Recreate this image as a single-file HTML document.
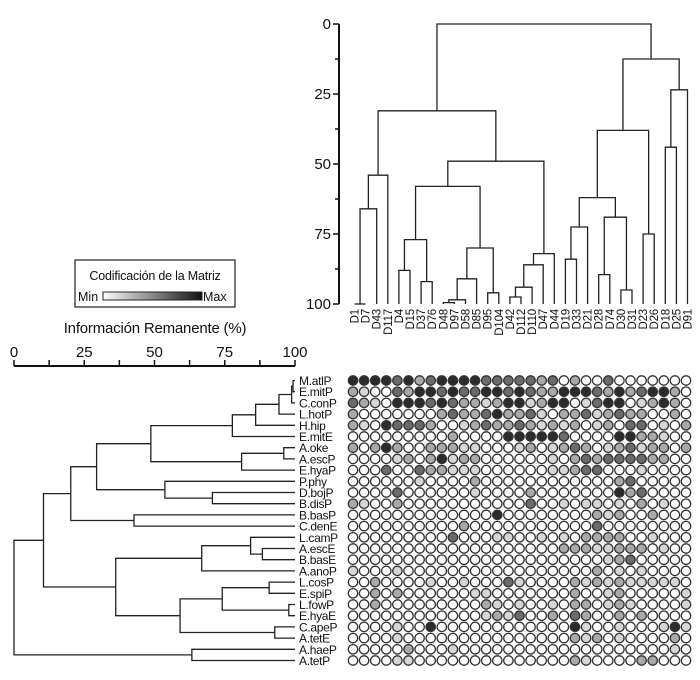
<!DOCTYPE html>
<html><head><meta charset="utf-8"><style>
html,body{margin:0;padding:0;background:#fff;}
svg text{font-family:"Liberation Sans",sans-serif;fill:#111;}
</style></head><body>
<svg id="fig" width="700" height="675" viewBox="0 0 700 675" xmlns="http://www.w3.org/2000/svg">
<g id="legend">
<defs><linearGradient id="grad" x1="0" x2="1" y1="0" y2="0"><stop offset="0" stop-color="#fff"/><stop offset="1" stop-color="#111"/></linearGradient></defs>
<rect x="75" y="260" width="160" height="47" fill="#fff" stroke="#333" stroke-width="1.3"/>
<text x="155" y="280" font-size="12.5" text-anchor="middle" letter-spacing="-0.2">Codificación de la Matriz</text>
<text x="78" y="301" font-size="12.5">Min</text>
<rect x="103" y="292" width="99" height="8" fill="url(#grad)" stroke="#222" stroke-width="1"/>
<text x="203" y="301" font-size="12.5">Max</text>
</g>
<text x="155" y="333" font-size="15" text-anchor="middle" letter-spacing="-0.2">Información Remanente (%)</text>
<g id="top"></g><g id="left"></g><g id="heat"></g>
</svg>
<script>
const colNames=["D1","D7","D43","D117","D4","D15","D37","D76","D48","D97","D58","D85","D95","D104","D42","D112","D110","D47","D44","D19","D33","D21","D28","D74","D30","D31","D23","D26","D18","D25","D91"];
const topMerges=[[0,1,100],["m0",2,66],["m1",3,54],[4,5,88],[6,7,92],["m3","m4",77],[8,9,99.5],["m6",10,98.5],["m7",11,91],[12,13,96],["m8","m9",80],["m5","m10",58],[14,15,97.5],["m12",16,94],["m13",17,86],["m14",18,82],["m11","m15",49],["m2","m16",31],[19,20,84],["m18",21,72.5],[22,23,89.5],[24,25,95],["m20","m21",69],["m19","m22",62],[26,27,75],["m23","m24",38],[28,29,44],["m26",30,23.5],["m25","m27",12.5],["m17","m28",0]];
const topTicks=[0,25,50,75,100];
const rowNames=["M.atlP","E.mitP","C.conP","L.hotP","H.hip","E.mitE","A.oke","A.escP","E.hyaP","P.phy","D.bojP","B.disP","B.basP","C.denE","L.camP","A.escE","B.basE","A.anoP","L.cosP","E.spiP","L.fowP","E.hyaE","C.apeP","A.tetE","A.haeP","A.tetP"];
const leftMerges=[[0,1,99.3],["m0",2,98.8],["m1",3,94.3],["m2",4,86],["m3",5,77.7],[6,7,96],["m5",8,81],["m4","m6",48.7],[10,11,70.6],[9,"m8",53.7],["m7","m9",29.4],[12,13,42.7],["m10","m11",20.2],[15,16,88.4],[14,"m13",84.2],["m14",17,66.8],[18,19,90.8],[20,21,97.8],["m16","m17",74.1],[22,23,92.8],["m18","m19",59.1],["m15","m20",36.2],["m12","m21",10.5],[24,25,63.3],["m22","m23",0]];
const leftTicks=[0,12.5,25,37.5,50,62.5,75,87.5,100];
const leftTickLabels=["0","25","50","75","100"];
const heatRows=[
"4444342344443333323020030000000",
"2100324434334434322444324234420",
"3210444343221244124401344012420",
"2000000023223422310223123220020",
"2104333200123223212120120330102",
"0000000002000044444300004422100",
"2024200222110001201232012312202",
"0000120241220000001023233332200",
"0003003221110000001123300010000",
"0000001000020000000000002300000",
"0000300000010000200000004230000",
"2100200000000000300101101020100",
"0000000000000400000000212002000",
"0000000000200000000000300000000",
"0000000003000110010102222001000",
"0000000000000000000222112220100",
"0000000000000000000000012300000",
"1000100000000000000000201010000",
"0020000100100031000021212111110",
"0020200000011000000020012000001",
"0020000000002101001022012100001",
"0000000000001213002032002020000",
"0000100400000000000041001000141",
"0000100000000000000021201000020",
"0000020001000000000000000000010",
"0000110000000000000021000022000"];
const shades=["#ffffff","#d6d6d6","#a9a9a9","#6b6b6b","#2b2b2b"];
const NS="http://www.w3.org/2000/svg";
function mk(tag,attrs,parent){const e=document.createElementNS(NS,tag);for(const k in attrs)e.setAttribute(k,attrs[k]);parent.appendChild(e);return e;}
const colX=i=>354.5+i*11.1;
const topY=v=>24+v*2.8;
const rowY=i=>380.5+i*11.2;
const leftX=v=>14+v*2.81;
const topG=document.getElementById('top'),leftG=document.getElementById('left'),heatG=document.getElementById('heat');
let ax=mk('line',{x1:339,x2:339,y1:topY(0),y2:topY(100),stroke:'#111','stroke-width':2},topG);


for(let v=0;v<=100;v+=12.5){const major=topTicks.includes(v);
 const t=mk('line',{x1:major?333:335,x2:339,y1:topY(v),y2:topY(v),stroke:'#111','stroke-width':1.5},topG);
 
 }
topTicks.forEach(v=>{const t=mk('text',{x:331,y:topY(v)+5,'font-size':15,'text-anchor':'end'},topG);t.textContent=v;
 
 });
function drawTree(merges,n,posOf,valOf,g,vertical,name){
 const pos=[],val=[];for(let i=0;i<n;i++){pos.push(posOf(i));val.push(valOf(100));}
 const mp=[],mv=[];
 const get=c=>typeof c==='number'?[pos[c],val[c]]:[mp[+c.slice(1)],mv[+c.slice(1)]];
 merges.forEach((m,k)=>{const a=get(m[0]),b=get(m[1]);const h=valOf(m[2]);
  let d;
  if(vertical) d=`M${a[0]},${a[1]}V${h}H${b[0]}V${b[1]}`;
  else d=`M${a[1]},${a[0]}H${h}V${b[0]}H${b[1]}`;
  const p=mk('path',{d:d,fill:'none',stroke:'#222','stroke-width':1.3},g);
  
  
  mp[k]=(a[0]+b[0])/2;mv[k]=h;});
}
drawTree(topMerges,colNames.length,colX,topY,topG,true,'column-dendrogram-link');
colNames.forEach((c,i)=>{const t=mk('text',{transform:`translate(${colX(i)+4},309) rotate(-90)`,'font-size':11.5,'letter-spacing':'-0.2','text-anchor':'end'},topG);t.textContent=c;
 
 });
ax=mk('line',{x1:leftX(0),x2:leftX(100),y1:366,y2:366,stroke:'#111','stroke-width':2},leftG);


leftTicks.forEach(v=>{const t=mk('line',{x1:leftX(v),x2:leftX(v),y1:360,y2:366,stroke:'#111','stroke-width':1.5},leftG);
 
 });
leftTickLabels.forEach((s,i)=>{const t=mk('text',{x:leftX(i*25),y:357,'font-size':15,'text-anchor':'middle'},leftG);t.textContent=s;
 
 });
drawTree(leftMerges,rowNames.length,rowY,leftX,leftG,false,'row-dendrogram-link');
rowNames.forEach((r,i)=>{const t=mk('text',{x:299,y:rowY(i)+4.5,'font-size':12,'letter-spacing':'-0.3'},leftG);t.textContent=r;
 
 });
heatRows.forEach((row,r)=>{for(let c=0;c<colNames.length;c++){const v=+row[c]||0;
 const e=mk('circle',{cx:colX(c)-1.5,cy:rowY(r),r:4.7,fill:shades[v],stroke:'#333','stroke-width':1.3},heatG);
 
 }});
</script>
</body></html>
